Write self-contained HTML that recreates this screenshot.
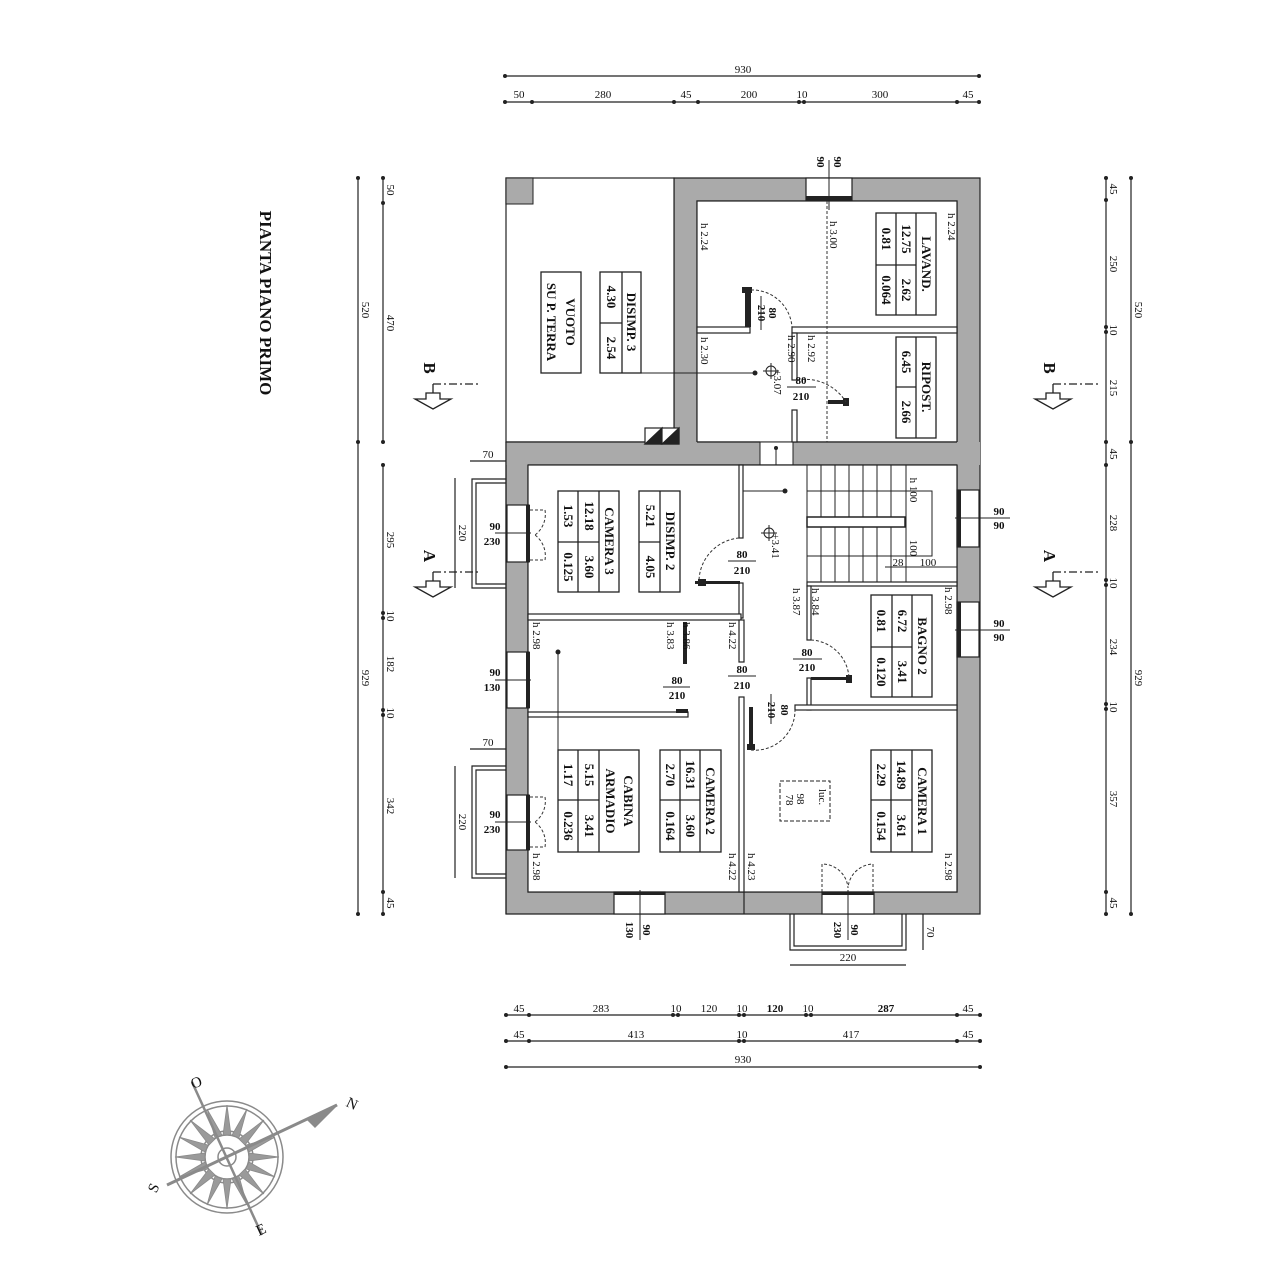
<!DOCTYPE html>
<html><head><meta charset="utf-8">
<style>
html,body{margin:0;padding:0;background:#fff;}
svg{display:block;}
text{font-family:"Liberation Serif",serif;fill:#111;}
.b{font-weight:bold;font-size:13px;}
.s{font-size:11px;}
.d{font-size:11px;fill:#333;}
</style></head>
<body>
<svg width="1266" height="1280" viewBox="0 0 1266 1280" xmlns="http://www.w3.org/2000/svg">
<defs>
<g id="dot"><circle r="2" fill="#222"/></g>
</defs>

<!-- ===== TOP DIMENSIONS ===== -->
<g stroke="#222" stroke-width="1.2">
<line x1="505" y1="76" x2="979" y2="76"/>
<line x1="505" y1="102" x2="979" y2="102"/>
</g>
<g fill="#222">
<circle cx="505" cy="76" r="2"/><circle cx="979" cy="76" r="2"/>
<circle cx="505" cy="102" r="2"/><circle cx="532" cy="102" r="2"/><circle cx="674" cy="102" r="2"/><circle cx="698" cy="102" r="2"/><circle cx="799" cy="102" r="2"/><circle cx="804" cy="102" r="2"/><circle cx="957" cy="102" r="2"/><circle cx="979" cy="102" r="2"/>
</g>
<g class="d" text-anchor="middle">
<text x="743" y="73">930</text>
<text x="519" y="98">50</text><text x="603" y="98">280</text><text x="686" y="98">45</text><text x="749" y="98">200</text><text x="802" y="98">10</text><text x="880" y="98">300</text><text x="968" y="98">45</text>
</g>

<!-- ===== BOTTOM DIMENSIONS ===== -->
<g stroke="#222" stroke-width="1.2">
<line x1="506" y1="1015" x2="980" y2="1015"/>
<line x1="506" y1="1041" x2="980" y2="1041"/>
<line x1="506" y1="1067" x2="980" y2="1067"/>
</g>
<g fill="#222">
<circle cx="506" cy="1015" r="2"/><circle cx="529" cy="1015" r="2"/><circle cx="673" cy="1015" r="2"/><circle cx="678" cy="1015" r="2"/><circle cx="739" cy="1015" r="2"/><circle cx="744" cy="1015" r="2"/><circle cx="806" cy="1015" r="2"/><circle cx="811" cy="1015" r="2"/><circle cx="957" cy="1015" r="2"/><circle cx="980" cy="1015" r="2"/>
<circle cx="506" cy="1041" r="2"/><circle cx="529" cy="1041" r="2"/><circle cx="739" cy="1041" r="2"/><circle cx="744" cy="1041" r="2"/><circle cx="957" cy="1041" r="2"/><circle cx="980" cy="1041" r="2"/>
<circle cx="506" cy="1067" r="2"/><circle cx="980" cy="1067" r="2"/>
</g>
<g class="d" text-anchor="middle">
<text x="519" y="1012">45</text><text x="601" y="1012">283</text><text x="676" y="1012">10</text><text x="709" y="1012">120</text><text x="742" y="1012">10</text><text x="775" y="1012" font-weight="bold">120</text><text x="808" y="1012">10</text><text x="886" y="1012" font-weight="bold">287</text><text x="968" y="1012">45</text>
<text x="519" y="1038">45</text><text x="636" y="1038">413</text><text x="742" y="1038">10</text><text x="851" y="1038">417</text><text x="968" y="1038">45</text>
<text x="743" y="1063">930</text>
</g>

<!-- ===== LEFT DIMENSIONS ===== -->
<g stroke="#222" stroke-width="1.2">
<line x1="358" y1="178" x2="358" y2="914"/>
<line x1="383" y1="178" x2="383" y2="442"/>
<line x1="383" y1="465" x2="383" y2="914"/>
<line x1="1106" y1="178" x2="1106" y2="914"/>
<line x1="1131" y1="178" x2="1131" y2="914"/>
</g>
<g fill="#222">
<circle cx="358" cy="178" r="2"/><circle cx="358" cy="442" r="2"/><circle cx="358" cy="914" r="2"/>
<circle cx="383" cy="178" r="2"/><circle cx="383" cy="203" r="2"/><circle cx="383" cy="442" r="2"/><circle cx="383" cy="465" r="2"/><circle cx="383" cy="613" r="2"/><circle cx="383" cy="618" r="2"/><circle cx="383" cy="710" r="2"/><circle cx="383" cy="715" r="2"/><circle cx="383" cy="892" r="2"/><circle cx="383" cy="914" r="2"/>
<circle cx="1131" cy="178" r="2"/><circle cx="1131" cy="442" r="2"/><circle cx="1131" cy="914" r="2"/>
<circle cx="1106" cy="178" r="2"/><circle cx="1106" cy="200" r="2"/><circle cx="1106" cy="327" r="2"/><circle cx="1106" cy="332" r="2"/><circle cx="1106" cy="442" r="2"/><circle cx="1106" cy="465" r="2"/><circle cx="1106" cy="580" r="2"/><circle cx="1106" cy="585" r="2"/><circle cx="1106" cy="704" r="2"/><circle cx="1106" cy="709" r="2"/><circle cx="1106" cy="892" r="2"/><circle cx="1106" cy="914" r="2"/>
</g>
<g class="d" text-anchor="middle">
<text transform="translate(362,310) rotate(90)">520</text>
<text transform="translate(362,678) rotate(90)">929</text>
<text transform="translate(387,190) rotate(90)">50</text>
<text transform="translate(387,323) rotate(90)">470</text>
<text transform="translate(387,540) rotate(90)">295</text>
<text transform="translate(387,616) rotate(90)">10</text>
<text transform="translate(387,664) rotate(90)">182</text>
<text transform="translate(387,713) rotate(90)">10</text>
<text transform="translate(387,806) rotate(90)">342</text>
<text transform="translate(387,903) rotate(90)">45</text>

<text transform="translate(1135,310) rotate(90)">520</text>
<text transform="translate(1135,678) rotate(90)">929</text>
<text transform="translate(1110,189) rotate(90)">45</text>
<text transform="translate(1110,264) rotate(90)">250</text>
<text transform="translate(1110,330) rotate(90)">10</text>
<text transform="translate(1110,388) rotate(90)">215</text>
<text transform="translate(1110,454) rotate(90)">45</text>
<text transform="translate(1110,523) rotate(90)">228</text>
<text transform="translate(1110,583) rotate(90)">10</text>
<text transform="translate(1110,647) rotate(90)">234</text>
<text transform="translate(1110,707) rotate(90)">10</text>
<text transform="translate(1110,799) rotate(90)">357</text>
<text transform="translate(1110,903) rotate(90)">45</text>
</g>

<!-- TITLE -->
<text transform="translate(260,303) rotate(90)" text-anchor="middle" font-weight="bold" font-size="17">PIANTA PIANO PRIMO</text>

<!-- ===== BUILDING ===== -->
<!-- gray outer walls -->
<g fill="#aaaaaa" stroke="#222" stroke-width="1.2">
<path d="M674,178 H980 V914 H506 V442 H674 Z M697,201 V442 H957 V201 Z M528,465 V892 H957 V465 Z"/>
<rect x="506" y="178" width="27" height="26"/>
</g>
<!-- vuoto outline -->
<rect x="506" y="178" width="168" height="264" fill="#fff" stroke="#222" stroke-width="1.2"/>
<rect x="506" y="178" width="27" height="26" fill="#aaa" stroke="#222" stroke-width="1"/>
<!-- upper rooms -->
<rect x="697" y="201" width="260" height="241" fill="#fff" stroke="#222" stroke-width="1.2"/>
<!-- gray band between upper and middle (already covered by path) -->
<rect x="506" y="442" width="474" height="23" fill="#aaa" stroke="none"/>
<line x1="506" y1="442" x2="674" y2="442" stroke="#222" stroke-width="1.2"/>
<line x1="697" y1="442" x2="760" y2="442" stroke="#222" stroke-width="1.2"/>
<line x1="793" y1="442" x2="957" y2="442" stroke="#222" stroke-width="1.2"/>
<rect x="760" y="442" width="33" height="23" fill="#fff" stroke="#222" stroke-width="1"/>
<line x1="776" y1="448" x2="776" y2="465" stroke="#222"/><circle cx="776" cy="448" r="2" fill="#222"/>
<line x1="528" y1="465" x2="957" y2="465" stroke="#222" stroke-width="1.2"/>
<line x1="506" y1="442" x2="506" y2="914" stroke="#222" stroke-width="1.2"/>
<!-- middle/lower room fill -->
<rect x="528" y="465" width="429" height="427" fill="#fff" stroke="#222" stroke-width="1.2"/>
<line x1="674" y1="442" x2="674" y2="178" stroke="#222"/>
<line x1="697" y1="442" x2="697" y2="201" stroke="#222"/>

<!-- chimney flues -->
<g stroke="#222" stroke-width="1.2">
<rect x="645" y="428" width="17" height="16" fill="#fff"/><path d="M645,444 L662,428 V444 Z" fill="#222"/>
<rect x="662" y="428" width="17" height="16" fill="#fff"/><path d="M662,444 L679,428 V444 Z" fill="#222"/>
</g>

<!-- internal partitions -->
<g fill="#fff" stroke="#222" stroke-width="1.2">
<!-- lavand / ripost -->
<rect x="697" y="327" width="53" height="6"/>
<rect x="792" y="327" width="165" height="6"/>
<rect x="792" y="333" width="5" height="47"/>
<rect x="792" y="410" width="5" height="32"/>
<!-- camera3 / disimp -->
<rect x="739" y="465" width="4" height="73"/>
<rect x="739" y="583" width="4" height="35"/>
<rect x="528" y="614" width="213" height="6"/>
<!-- lower left corridor -->
<rect x="739" y="620" width="5" height="42"/>
<rect x="739" y="697" width="5" height="195"/>
<rect x="528" y="712" width="160" height="5"/>
<!-- stair / bagno -->
<rect x="807" y="582" width="150" height="4"/>
<rect x="807" y="586" width="4" height="54"/>
<rect x="807" y="678" width="4" height="32"/>
<rect x="795" y="705" width="162" height="5"/>
</g>
<line x1="744" y1="892" x2="744" y2="914" stroke="#222" stroke-width="1.2"/>
<!-- door jamb walls -->
<g fill="#222">
<rect x="745" y="287" width="6" height="40"/><rect x="742" y="287" width="10" height="6"/>
<rect x="828" y="400" width="20" height="4"/><rect x="843" y="398" width="6" height="8"/>
<rect x="695" y="581" width="45" height="3"/><rect x="698" y="579" width="8" height="7"/>
<rect x="683" y="622" width="4" height="42"/>
<rect x="811" y="677" width="40" height="3"/><rect x="846" y="675" width="6" height="8"/>
<rect x="749" y="707" width="4" height="42"/><rect x="747" y="744" width="8" height="6"/>
<rect x="676" y="709" width="12" height="4"/>
</g>
<!-- door swings -->
<g fill="none" stroke="#333" stroke-width="1" stroke-dasharray="3,2">
<path d="M751,290 A40,40 0 0 1 792,327"/>
<path d="M797,380 A48,48 0 0 1 846,402"/>
<path d="M739,538 A44,44 0 0 0 699,582"/>
<path d="M811,640 A40,40 0 0 1 849,678"/>
<path d="M751,750 A40,40 0 0 0 795,710"/>
<!-- french windows -->
<path d="M530,510 H545 A26,26 0 0 1 535,535"/>
<path d="M530,560 H545 A26,26 0 0 0 535,535"/>
<path d="M530,797 H545 A26,26 0 0 1 535,822"/>
<path d="M530,847 H545 A26,26 0 0 0 535,822"/>
<path d="M822,892 V864 A26,26 0 0 1 848,888"/>
<path d="M873,892 V864 A26,26 0 0 0 848,888"/>
<line x1="827" y1="201" x2="827" y2="442"/>
</g>

<!-- windows -->
<g fill="#fff" stroke="#222" stroke-width="1.2">
<rect x="806" y="178" width="46" height="22"/>
<rect x="507" y="505" width="22" height="57"/>
<rect x="507" y="652" width="22" height="56"/>
<rect x="507" y="795" width="22" height="55"/>
<rect x="957" y="490" width="22" height="57"/>
<rect x="957" y="602" width="22" height="55"/>
<rect x="614" y="892" width="51" height="22"/>
<rect x="822" y="892" width="52" height="22"/>
</g>
<g stroke="#222" stroke-width="1">
<line x1="829" y1="160" x2="829" y2="210"/>
<line x1="495" y1="533" x2="531" y2="533"/>
<line x1="495" y1="680" x2="531" y2="680"/>
<line x1="495" y1="822" x2="531" y2="822"/>
<line x1="955" y1="518" x2="1010" y2="518"/>
<line x1="955" y1="630" x2="1010" y2="630"/>
<line x1="640" y1="890" x2="640" y2="940"/>
<line x1="848" y1="890" x2="848" y2="940"/>
</g>
<g fill="#222">
<rect x="806" y="196" width="46" height="4"/>
<rect x="526" y="505" width="4" height="57"/>
<rect x="526" y="652" width="4" height="56"/>
<rect x="526" y="795" width="4" height="55"/>
<rect x="957" y="490" width="4" height="57"/>
<rect x="957" y="602" width="4" height="55"/>
<rect x="614" y="892" width="51" height="3"/>
<rect x="822" y="892" width="52" height="3"/>
</g>
<g class="s" font-weight="bold" text-anchor="middle">
<text transform="translate(817,162) rotate(90)">90</text>
<text transform="translate(834,162) rotate(90)">90</text>
<text x="495" y="530">90</text><text x="492" y="545">230</text>
<text x="495" y="676">90</text><text x="492" y="691">130</text>
<text x="495" y="818">90</text><text x="492" y="833">230</text>
<text x="999" y="515">90</text><text x="999" y="529">90</text>
<text x="999" y="627">90</text><text x="999" y="641">90</text>
<text transform="translate(626,930) rotate(90)">130</text>
<text transform="translate(643,930) rotate(90)">90</text>
<text transform="translate(834,930) rotate(90)">230</text>
<text transform="translate(851,930) rotate(90)">90</text>
</g>

<!-- balconies -->
<g fill="none" stroke="#222" stroke-width="1.2">
<path d="M506,479 H472 V588 H506"/><path d="M506,483 H476 V584 H506"/>
<path d="M506,766 H472 V878 H506"/><path d="M506,770 H476 V874 H506"/>
<path d="M790,914 V950 H906 V914"/><path d="M794,914 V946 H902 V914"/>
<line x1="470" y1="461" x2="506" y2="461"/>
<line x1="470" y1="749" x2="506" y2="749"/>
<line x1="455" y1="478" x2="455" y2="588"/>
<line x1="455" y1="766" x2="455" y2="878"/>
<line x1="790" y1="965" x2="906" y2="965"/>
<line x1="923" y1="914" x2="923" y2="950"/>
</g>
<g class="d" text-anchor="middle">
<text x="488" y="458">70</text><text x="488" y="746">70</text>
<text transform="translate(459,533) rotate(90)">220</text>
<text transform="translate(459,822) rotate(90)">220</text>
<text x="848" y="961">220</text>
<text transform="translate(927,932) rotate(90)">70</text>
</g>

<!-- stairs -->
<g stroke="#222" stroke-width="1" fill="none">
<line x1="807" y1="491" x2="932" y2="491"/>
<line x1="807" y1="556" x2="932" y2="556"/>
<rect x="807" y="517" width="98" height="10" fill="#fff" stroke-width="1.5"/>
<path d="M905,491 H932 V556 H905"/>
<line x1="807" y1="465" x2="807" y2="517"/>
<line x1="807" y1="527" x2="807" y2="582"/>
<line x1="821" y1="465" x2="821" y2="517"/><line x1="835" y1="465" x2="835" y2="517"/><line x1="849" y1="465" x2="849" y2="517"/><line x1="863" y1="465" x2="863" y2="517"/><line x1="877" y1="465" x2="877" y2="517"/><line x1="891" y1="465" x2="891" y2="517"/>
<line x1="821" y1="527" x2="821" y2="582"/><line x1="835" y1="527" x2="835" y2="582"/><line x1="849" y1="527" x2="849" y2="582"/><line x1="863" y1="527" x2="863" y2="582"/><line x1="877" y1="527" x2="877" y2="582"/><line x1="891" y1="527" x2="891" y2="582"/>
<line x1="906" y1="465" x2="906" y2="582"/>
<line x1="885" y1="567" x2="957" y2="567"/>
</g>
<g class="d" font-size="10" text-anchor="middle">
<text transform="translate(910,490) rotate(90)">h 100</text>
<text transform="translate(910,548) rotate(90)">100</text>
<text x="898" y="566">28</text><text x="928" y="566">100</text>
</g>

<!-- electrical / level points -->
<g stroke="#222" stroke-width="1" fill="none">
<line x1="600" y1="373" x2="755" y2="373"/>
<line x1="743" y1="491" x2="785" y2="491"/>
<line x1="558" y1="652" x2="558" y2="750"/>
<circle cx="771" cy="371" r="5"/><line x1="763" y1="371" x2="779" y2="371"/><line x1="771" y1="363" x2="771" y2="379"/>
<circle cx="769" cy="533" r="5"/><line x1="761" y1="533" x2="777" y2="533"/><line x1="769" y1="525" x2="769" y2="541"/>
</g>
<g fill="#222"><circle cx="755" cy="373" r="2.5"/><circle cx="785" cy="491" r="2.5"/><circle cx="558" cy="652" r="2.5"/></g>
<rect x="780" y="781" width="50" height="40" fill="none" stroke="#222" stroke-dasharray="4,2"/>
<g class="d" font-size="10" text-anchor="middle">
<text transform="translate(774,382) rotate(90)">+3.07</text>
<text transform="translate(772,546) rotate(90)">+3.41</text>
<text transform="translate(797,799) rotate(90)">98</text>
<text transform="translate(786,800) rotate(90)">78</text>
<text transform="translate(819,797) rotate(90)">luc.</text>
</g>

<!-- door labels 80/210 -->
<g class="s" font-weight="bold" text-anchor="middle">
<text transform="translate(769,313) rotate(90)">80</text><text transform="translate(758,313) rotate(90)">210</text>
<text x="801" y="384">80</text><text x="801" y="400">210</text>
<text x="742" y="558">80</text><text x="742" y="574">210</text>
<text x="677" y="684">80</text><text x="677" y="699">210</text>
<text x="742" y="673">80</text><text x="742" y="689">210</text>
<text x="807" y="656">80</text><text x="807" y="671">210</text>
<text transform="translate(781,710) rotate(90)">80</text><text transform="translate(768,710) rotate(90)">210</text>
</g>
<g stroke="#222" stroke-width="1">
<line x1="761" y1="296" x2="761" y2="330"/>
<line x1="787" y1="387" x2="816" y2="387"/>
<line x1="728" y1="561" x2="756" y2="561"/>
<line x1="663" y1="687" x2="690" y2="687"/>
<line x1="728" y1="676" x2="756" y2="676"/>
<line x1="793" y1="659" x2="822" y2="659"/>
<line x1="771" y1="694" x2="771" y2="724"/>
</g>

<!-- heights -->
<g class="d" font-size="10">
<text transform="translate(701,223) rotate(90)">h 2.24</text>
<text transform="translate(948,213) rotate(90)">h 2.24</text>
<text transform="translate(830,221) rotate(90)">h 3.00</text>
<text transform="translate(701,337) rotate(90)">h 2.30</text>
<text transform="translate(788,335) rotate(90)">h 2.90</text>
<text transform="translate(808,335) rotate(90)">h 2.92</text>
<text transform="translate(793,588) rotate(90)">h 3.87</text>
<text transform="translate(812,588) rotate(90)">h 3.84</text>
<text transform="translate(945,587) rotate(90)">h 2.98</text>
<text transform="translate(533,622) rotate(90)">h 2.98</text>
<text transform="translate(667,622) rotate(90)">h 3.83</text>
<text transform="translate(683,622) rotate(90)">h 3.86</text>
<text transform="translate(729,622) rotate(90)">h 4.22</text>
<text transform="translate(533,853) rotate(90)">h 2.98</text>
<text transform="translate(729,853) rotate(90)">h 4.22</text>
<text transform="translate(748,853) rotate(90)">h 4.23</text>
<text transform="translate(945,853) rotate(90)">h 2.98</text>
</g>

<!-- ===== ROOM TABLES ===== -->
<g fill="none" stroke="#222" stroke-width="1.3">
<!-- LAVAND -->
<rect x="876" y="213" width="60" height="102"/><line x1="896" y1="213" x2="896" y2="315"/><line x1="916" y1="213" x2="916" y2="315"/><line x1="876" y1="265" x2="916" y2="265"/>
<!-- RIPOST -->
<rect x="896" y="337" width="40" height="101"/><line x1="916" y1="337" x2="916" y2="438"/><line x1="896" y1="387" x2="916" y2="387"/>
<!-- DISIMP3 -->
<rect x="600" y="272" width="41" height="101"/><line x1="622" y1="272" x2="622" y2="373"/><line x1="600" y1="323" x2="622" y2="323"/>
<!-- VUOTO -->
<rect x="541" y="272" width="40" height="101"/>
<!-- CAMERA3 -->
<rect x="558" y="491" width="61" height="101"/><line x1="578" y1="491" x2="578" y2="592"/><line x1="599" y1="491" x2="599" y2="592"/><line x1="558" y1="542" x2="599" y2="542"/>
<!-- DISIMP2 -->
<rect x="639" y="491" width="41" height="101"/><line x1="660" y1="491" x2="660" y2="592"/><line x1="639" y1="542" x2="660" y2="542"/>
<!-- BAGNO2 -->
<rect x="871" y="595" width="61" height="102"/><line x1="892" y1="595" x2="892" y2="697"/><line x1="912" y1="595" x2="912" y2="697"/><line x1="871" y1="647" x2="912" y2="647"/>
<!-- CABINA -->
<rect x="558" y="750" width="81" height="102"/><line x1="578" y1="750" x2="578" y2="852"/><line x1="599" y1="750" x2="599" y2="852"/><line x1="558" y1="800" x2="599" y2="800"/>
<!-- CAMERA2 -->
<rect x="660" y="750" width="61" height="102"/><line x1="680" y1="750" x2="680" y2="852"/><line x1="700" y1="750" x2="700" y2="852"/><line x1="660" y1="800" x2="700" y2="800"/>
<!-- CAMERA1 -->
<rect x="871" y="750" width="61" height="102"/><line x1="891" y1="750" x2="891" y2="852"/><line x1="912" y1="750" x2="912" y2="852"/><line x1="871" y1="800" x2="912" y2="800"/>
</g>
<g class="b" text-anchor="middle">
<text transform="translate(922,264) rotate(90)">LAVAND.</text>
<text transform="translate(902,239) rotate(90)">12.75</text><text transform="translate(902,290) rotate(90)">2.62</text>
<text transform="translate(882,239) rotate(90)">0.81</text><text transform="translate(882,290) rotate(90)">0.064</text>

<text transform="translate(922,387) rotate(90)">RIPOST.</text>
<text transform="translate(902,362) rotate(90)">6.45</text><text transform="translate(902,412) rotate(90)">2.66</text>

<text transform="translate(627,322) rotate(90)">DISIMP. 3</text>
<text transform="translate(607,297) rotate(90)">4.30</text><text transform="translate(607,348) rotate(90)">2.54</text>

<text transform="translate(566,322) rotate(90)">VUOTO</text>
<text transform="translate(547,322) rotate(90)">SU P. TERRA</text>

<text transform="translate(605,541) rotate(90)">CAMERA 3</text>
<text transform="translate(585,516) rotate(90)">12.18</text><text transform="translate(585,567) rotate(90)">3.60</text>
<text transform="translate(564,516) rotate(90)">1.53</text><text transform="translate(564,567) rotate(90)">0.125</text>

<text transform="translate(666,541) rotate(90)">DISIMP. 2</text>
<text transform="translate(646,516) rotate(90)">5.21</text><text transform="translate(646,567) rotate(90)">4.05</text>

<text transform="translate(918,646) rotate(90)">BAGNO 2</text>
<text transform="translate(898,621) rotate(90)">6.72</text><text transform="translate(898,672) rotate(90)">3.41</text>
<text transform="translate(877,621) rotate(90)">0.81</text><text transform="translate(877,672) rotate(90)">0.120</text>

<text transform="translate(624,801) rotate(90)">CABINA</text>
<text transform="translate(606,801) rotate(90)">ARMADIO</text>
<text transform="translate(585,775) rotate(90)">5.15</text><text transform="translate(585,826) rotate(90)">3.41</text>
<text transform="translate(564,775) rotate(90)">1.17</text><text transform="translate(564,826) rotate(90)">0.236</text>

<text transform="translate(706,801) rotate(90)">CAMERA 2</text>
<text transform="translate(686,775) rotate(90)">16.31</text><text transform="translate(686,826) rotate(90)">3.60</text>
<text transform="translate(666,775) rotate(90)">2.70</text><text transform="translate(666,826) rotate(90)">0.164</text>

<text transform="translate(918,801) rotate(90)">CAMERA 1</text>
<text transform="translate(897,775) rotate(90)">14.89</text><text transform="translate(897,826) rotate(90)">3.61</text>
<text transform="translate(877,775) rotate(90)">2.29</text><text transform="translate(877,826) rotate(90)">0.154</text>
</g>

<!-- ===== SECTION MARKERS ===== -->
<g id="secL" stroke="#222" stroke-width="1.3" fill="#fff">
<line x1="433" y1="384" x2="478" y2="384" stroke-dasharray="8,3,2,3"/>
<line x1="433" y1="384" x2="433" y2="393"/>
<polygon points="426,393 440,393 440,399 451,399 433,409 415,399 426,399"/>
</g>
<use href="#secL" transform="translate(0,188)"/>
<use href="#secL" transform="translate(620,0)"/>
<use href="#secL" transform="translate(620,188)"/>
<g font-weight="bold" font-size="17" text-anchor="middle">
<text transform="translate(424,368) rotate(90)">B</text>
<text transform="translate(424,556) rotate(90)">A</text>
<text transform="translate(1044,368) rotate(90)">B</text>
<text transform="translate(1044,556) rotate(90)">A</text>
</g>

<!-- ===== COMPASS ===== -->
<g transform="translate(227,1157)" stroke="#8a8a8a" fill="none" stroke-width="1.5">
<circle r="56"/><circle r="51"/><circle r="26"/><circle r="22"/><circle r="9"/>
<g fill="#9a9a9a" stroke="#8a8a8a" stroke-width="0.8">
<polygon points="0,-52 4,-22 -4,-22"/><polygon points="0,52 4,22 -4,22"/>
<polygon points="-52,0 -22,4 -22,-4"/><polygon points="52,0 22,4 22,-4"/>
<polygon points="37,-37 18,-12 12,-18"/><polygon points="-37,37 -18,12 -12,18"/>
<polygon points="-37,-37 -18,-12 -12,-18"/><polygon points="37,37 18,12 12,18"/>
<polygon points="20,-48 12,-19 5,-22"/><polygon points="-20,48 -12,19 -5,22"/>
<polygon points="-48,-20 -19,-12 -22,-5"/><polygon points="48,20 19,12 22,5"/>
<polygon points="-20,-48 -5,-22 -12,-19"/><polygon points="20,48 5,22 12,19"/>
<polygon points="48,-20 22,-5 19,-12"/><polygon points="-48,20 -22,5 -19,12"/>
</g>
<line x1="-60" y1="28" x2="110" y2="-52" stroke-width="3"/>
<line x1="-35" y1="-75" x2="35" y2="78" stroke-width="2.5"/>
<polygon points="80,-38 110,-52 88,-30" fill="#8a8a8a"/>
</g>
<g fill="#888" font-size="15" text-anchor="middle">
<text transform="translate(350,1108) rotate(25)">N</text>
<text transform="translate(198,1087) rotate(-20)">O</text>
<text transform="translate(158,1190) rotate(-65)">S</text>
<text transform="translate(263,1234) rotate(-25)">E</text>
</g>
</svg>
</body></html>
